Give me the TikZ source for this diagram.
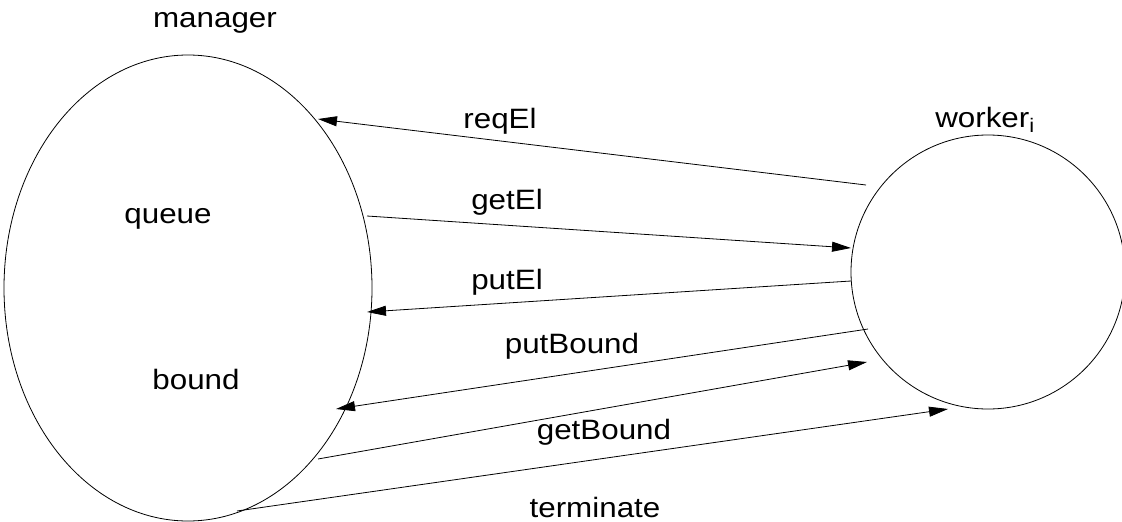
\documentclass[tikz,border=0pt]{standalone}
\usepackage{fontspec}
\setmainfont{Liberation Sans}[FakeStretch=1.12]
\usetikzlibrary{arrows.meta,shapes.geometric}
\begin{document}
\begin{tikzpicture}[x=1pt,y=-1pt,
  lbl/.style={font=\fontsize{28}{32}\selectfont, inner sep=0pt},
  msg/.style={line width=0.8pt,-{Triangle[length=19pt,width=10pt]}},
  proc/.style={draw,line width=0.8pt,inner sep=0pt}]
\useasboundingbox (0,0) rectangle (1122,522);
\node[proc,ellipse,minimum width=368pt,minimum height=466pt] (manager) at (188,288) {};
\node[proc,circle,minimum size=274pt] (worker) at (988,272) {};
\node[lbl] (mlabel) at (215,23) {manager};
\node[lbl] (wlabel) at (985,120) {worker\textsubscript{i}};
\node[lbl] (queue) at (168,219) {queue};
\node[lbl] (bound) at (196,379) {bound};
% endpoints
\coordinate (reqA) at (866,185); \coordinate (reqB) at (318,119);
\coordinate (getA) at (367,216); \coordinate (getB) at (851,248);
\coordinate (putA) at (851,281); \coordinate (putB) at (367,312);
\coordinate (pbA) at (868,329);  \coordinate (pbB) at (336,409);
\coordinate (gbA) at (318,459);  \coordinate (gbB) at (867,362);
\coordinate (tA) at (237,511);   \coordinate (tB) at (948,409);
\draw[msg] (reqA) -- (reqB);
\draw[msg] (getA) -- (getB);
\draw[msg] (putA) -- (putB);
\draw[msg] (pbA) -- (pbB);
\draw[msg] (gbA) -- (gbB);
\draw[msg] (tA) -- (tB);
\node[lbl] (lreq) at (500,121) {reqEl};
\node[lbl] (lget) at (507,202) {getEl};
\node[lbl] (lput) at (507,282) {putEl};
\node[lbl] (lpb) at (572,346) {putBound};
\node[lbl] (lgb) at (604,432) {getBound};
\node[lbl] (lt) at (595,507) {terminate};
\end{tikzpicture}
\end{document}
